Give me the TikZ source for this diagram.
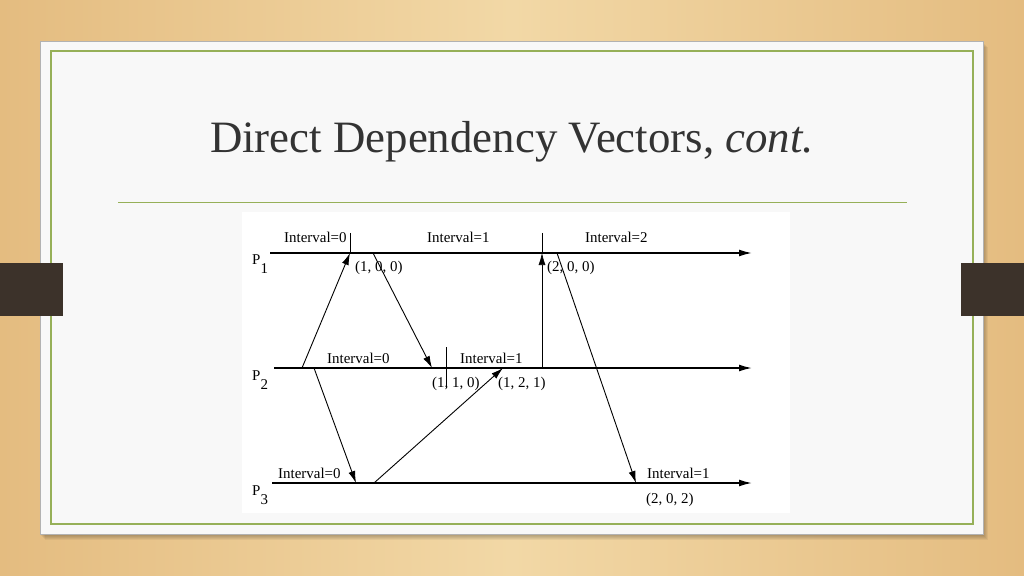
\documentclass[tikz,border=0pt]{standalone}
\usepackage{fontspec}
\setmainfont{Liberation Serif}
\usetikzlibrary{arrows.meta}
\definecolor{woodA}{RGB}{228,188,128}
\definecolor{woodB}{RGB}{242,216,166}
\definecolor{panel}{RGB}{248,248,248}
\definecolor{rim}{RGB}{150,176,88}
\definecolor{tab}{RGB}{60,50,42}
\begin{document}
\begin{tikzpicture}[x=1bp,y=-1bp,
    timeline/.style={line width=1.6bp,-{Latex[length=13bp,width=7bp]}},
    msg/.style={line width=0.9bp,-{Latex[length=12bp,width=7bp]}},
    tick/.style={line width=0.7bp},
    lbl/.style={font=\fontsize{15}{15}\selectfont,inner sep=0pt,anchor=base west}]
    \useasboundingbox (0,0) rectangle (1024,576);
    \shade[left color=woodA, right color=woodA, middle color=woodB] (0,0) rectangle (1024,576);
    \foreach \d in {1,...,5}
        \fill[black,opacity=0.05] (40+\d,42+\d) rectangle (983+\d,534+\d+1);
    \fill[panel,draw=black!30,line width=0.5bp] (40,41) rectangle (983,534);
    \draw[rim,line width=1.5bp] (51,51) rectangle (973,524);
    \fill[tab] (0,263) rectangle (63,316);
    \fill[tab] (961,263) rectangle (1024,316);

    \node[anchor=base,inner sep=0pt,text=black!80] (T) at (512,153)
        {\fontsize{45}{54}\selectfont Direct Dependency Vectors, \textit{cont.}};
    \draw[rim,line width=1bp] (118,203) -- (907,203);
    \fill[white] (242,212) rectangle (790,513);

    \coordinate (A) at (270,253);
    \coordinate (B) at (752,253);
    \coordinate (C) at (274,368);
    \coordinate (D) at (752,368);
    \coordinate (E) at (272,483);
    \coordinate (F) at (752,483);

    \node[lbl] (P1) at (252,265) {P\raisebox{-9bp}{1}};
    \node[lbl] (P2) at (252,380) {P\raisebox{-9bp}{2}};
    \node[lbl] (P3) at (252,495) {P\raisebox{-9bp}{3}};

    \path [timeline] (A) edge (B);
    \path [timeline] (C) edge (D);
    \path [timeline] (E) edge (F);

    \node[lbl] (I10) at (284,243) {Interval=0};
    \node[lbl] (I11) at (427,243) {Interval=1};
    \node[lbl] (I12) at (585,243) {Interval=2};
    \node[lbl] (I20) at (327,363) {Interval=0};
    \node[lbl] (I21) at (460,363) {Interval=1};
    \node[lbl] (I30) at (278,478) {Interval=0};
    \node[lbl] (I31) at (647,478) {Interval=1};

    \node[lbl] (V1) at (355,272) {(1, 0, 0)};
    \node[lbl] (V2) at (547,272) {(2, 0, 0)};
    \node[lbl] (V3) at (432,387) {(1, 1, 0)};
    \node[lbl] (V4) at (498,387) {(1, 2, 1)};
    \node[lbl] (V5) at (646,503) {(2, 0, 2)};

    \coordinate (G) at (350,233);
    \coordinate (H) at (350,253);
    \coordinate (J) at (542,233);
    \coordinate (K) at (542,253);
    \coordinate (L) at (446,347);
    \coordinate (M) at (446,388);

    \path [tick] (G) edge (H);
    \path [tick] (J) edge (K);
    \path [tick] (L) edge (M);

    \coordinate (N) at (302,368);
    \coordinate (O) at (373,253);
    \coordinate (Q) at (432,368);
    \coordinate (R) at (314,368);
    \coordinate (S) at (356,483);
    \coordinate (U) at (374,483);
    \coordinate (W) at (503,368);
    \coordinate (X) at (542,368);
    \coordinate (Y) at (557,253);
    \coordinate (Z) at (636,483);

    \path [msg] (N) edge (H);
    \path [msg] (O) edge (Q);
    \path [msg] (R) edge (S);
    \path [msg] (U) edge (W);
    \path [msg,line width=0.6bp] (X) edge (K);
    \path [msg] (Y) edge (Z);
\end{tikzpicture}
\end{document}
